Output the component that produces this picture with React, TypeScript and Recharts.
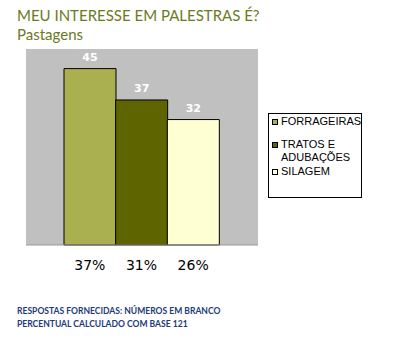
import { BarChart, Bar, XAxis, YAxis, CartesianGrid, LabelList, Cell } from 'recharts';

const categories = ['FORRAGEIRAS', 'TRATOS E ADUBAÇÕES', 'SILAGEM'];
const legendLines = [['FORRAGEIRAS'], ['TRATOS E', 'ADUBAÇÕES'], ['SILAGEM']];
const respostas = [45, 37, 32];
const percentuais = ['37%', '31%', '26%'];
const cores = ['#aab050', '#5e6400', '#ffffd4'];

const data = categories.map((name, i) => ({ name, value: respostas[i], pct: percentuais[i] }));

const PctTick = ({ x, y, index }: any) => (
  <text
    x={x}
    y={y + 25}
    textAnchor="middle"
    fontFamily="DejaVu Sans"
    fontSize={14}
    fill="#000"
  >
    {percentuais[index]}
  </text>
);

const LegendBox = () => (
  <div
    style={{
      position: 'absolute',
      left: 268,
      top: 113,
      width: 92,
      height: 82,
      border: '1px solid #000',
      background: '#fff',
      fontFamily: 'Liberation Sans, Arial, sans-serif',
      fontSize: 11,
      lineHeight: '13px',
      color: '#000',
      paddingTop: 1,
      boxSizing: 'content-box',
    }}
  >
    {legendLines.map((lines, i) => (
      <div key={i} style={{ display: 'flex', marginBottom: i === 0 ? 10 : 1 }}>
        <div
          style={{
            width: 4,
            height: 4,
            border: '1px solid #000',
            background: cores[i],
            marginLeft: 3,
            marginTop: 4,
            marginRight: 3,
            flexShrink: 0,
          }}
        />
        <div>
          {lines.map((l) => (
            <div key={l}>{l}</div>
          ))}
        </div>
      </div>
    ))}
  </div>
);

const footerStyle = (top: number): React.CSSProperties => ({
  position: 'absolute',
  left: 17,
  top,
  fontFamily: 'Lato, sans-serif',
  fontWeight: 'bold',
  fontSize: 10,
  lineHeight: '10px',
  color: '#1b3b7a',
  whiteSpace: 'nowrap',
  transform: 'scaleX(0.855)',
  transformOrigin: 'left top',
});

export default function App() {
  return (
    <div style={{ position: 'absolute', left: 0, top: 0, width: 410, height: 346, background: '#fff' }}>
      <div
        style={{
          position: 'absolute',
          left: 17,
          top: 8,
          fontFamily: 'Lato, sans-serif',
          fontSize: 15,
          lineHeight: '15px',
          color: '#6b7a1e',
          whiteSpace: 'nowrap',
        }}
      >
        MEU INTERESSE EM PALESTRAS É?
      </div>
      <div
        style={{
          position: 'absolute',
          left: 17,
          top: 27,
          fontFamily: 'Lato, sans-serif',
          fontSize: 15,
          lineHeight: '15px',
          color: '#6b7a1e',
        }}
      >
        Pastagens
      </div>

      <div style={{ position: 'absolute', left: 0, top: 0 }}>
        <BarChart
          width={410}
          height={346}
          data={data}
          margin={{ top: 49, right: 152, left: 26, bottom: 71 }}
          barCategoryGap={0}
        >
          <CartesianGrid fill="#c0c0c0" fillOpacity={1} horizontal={false} vertical={false} />
          <XAxis
            dataKey="name"
            height={30}
            padding={{ left: 38, right: 39 }}
            axisLine={{ stroke: '#999' }}
            tickLine={false}
            tickSize={0}
            tickMargin={0}
            tick={<PctTick />}
            interval={0}
          />
          <YAxis
            width={0}
            domain={[0, 50]}
            tick={false}
            tickLine={false}
            axisLine={{ stroke: '#999' }}
          />
          <Bar dataKey="value" stroke="#000" strokeWidth={1} isAnimationActive={false}>
            {data.map((d, i) => (
              <Cell key={d.name} fill={cores[i]} />
            ))}
            <LabelList
              dataKey="value"
              position="top"
              offset={8}
              fill="#fff"
              fontFamily="DejaVu Sans"
              fontWeight="bold"
              fontSize={11}
            />
          </Bar>
        </BarChart>
      </div>

      <LegendBox />

      <div style={footerStyle(305)}>RESPOSTAS FORNECIDAS: NÚMEROS EM BRANCO</div>
      <div style={footerStyle(318)}>PERCENTUAL CALCULADO COM BASE 121</div>
    </div>
  );
}
